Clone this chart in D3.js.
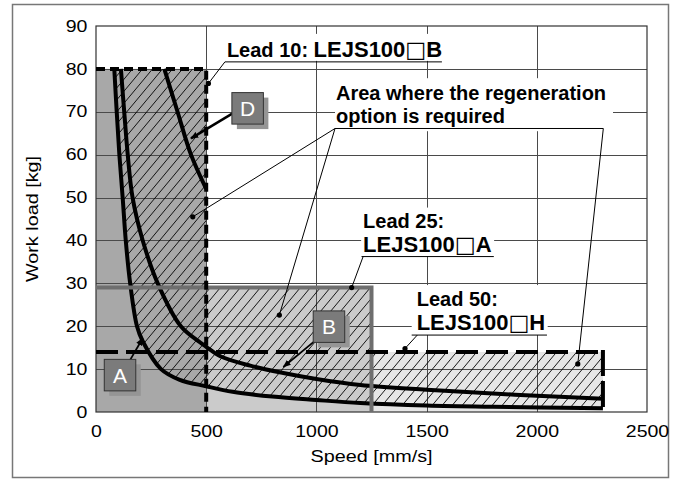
<!DOCTYPE html>
<html>
<head>
<meta charset="utf-8">
<script src="https://cdn.jsdelivr.net/npm/d3@7"></script>
<style>
body { margin: 0; background: #fff; }
svg { display: block; font-family: "Liberation Sans", Arial, sans-serif; }
</style>
</head>
<body>
<svg width="676" height="479"></svg>
<script>
// curves: speed [mm/s] / work load [kg]
var curveASpeed = [83, 94, 106, 121, 135, 155, 186, 212, 295, 380, 500, 620, 800, 1000, 1200, 1500, 1800, 2300];
var curveALoad  = [80, 70, 60, 50, 40, 30, 20, 16.5, 10, 7.5, 6.0, 4.7, 3.6, 2.8, 2.1, 1.5, 1.2, 0.9];
var curveBSpeed = [113, 128, 144, 166, 212, 280, 385, 473, 500, 564, 700, 850, 1000, 1200, 1500, 1800, 2000, 2300];
var curveBLoad  = [80, 70, 60, 50, 40, 30, 20, 16.2, 15.2, 13, 10.8, 9.1, 7.7, 6.3, 5.2, 4.3, 3.8, 3.1];
var curveDSpeed = [310, 370, 431, 500];
var curveDLoad  = [80, 70, 60, 52];

// one entry per lead: 10, 25, 50
var leadNames    = ["Lead 10:", "Lead 25:", "Lead 50:"];
var leadModels   = ["LEJS100□B", "LEJS100□A", "LEJS100□H"];
var leadMaxSpeed = [500, 1250, 2300];
var leadMaxLoad  = [80, 29, 14];

var xTicks = [0, 500, 1000, 1500, 2000, 2500];
var yTicks = [0, 10, 20, 30, 40, 50, 60, 70, 80, 90];

var svg = d3.select("svg");

var x = d3.scaleLinear().domain([0, 2500]).range([96, 647]),
    y = d3.scaleLinear().domain([0, 90]).range([412, 26]);

var fills = ["#a8a8a8", "#cbcbcb", "#e6e6e6"];

function pts(sp, ld) {
    return sp.map(function(s, i) { return [s, ld[i]]; });
}
var curveA = pts(curveASpeed, curveALoad),
    curveB = pts(curveBSpeed, curveBLoad),
    curveD = pts(curveDSpeed, curveDLoad);

var smooth = d3.curveCatmullRom.alpha(0.5);

var defs = svg.append("defs");

defs.append("pattern")
    .attr("id", "hatch")
    .attr("patternUnits", "userSpaceOnUse")
    .attr("width", 10)
    .attr("height", 12)
    .append("path")
    .attr("d", "M0,12 L10,0 M-1,1.2 L1,-1.2 M9,13.2 L11,10.8")
    .attr("stroke", "#000")
    .attr("stroke-width", 0.9);

defs.append("marker")
    .attr("id", "arrow")
    .attr("viewBox", "0 0 10 10")
    .attr("refX", 9).attr("refY", 5)
    .attr("markerUnits", "userSpaceOnUse")
    .attr("markerWidth", 8).attr("markerHeight", 8)
    .attr("orient", "auto")
    .append("path").attr("d", "M0,1 L10,5 L0,9 Z").attr("fill", "#000");

// union of the three lead areas
var clip = defs.append("clipPath").attr("id", "leads");
clip.selectAll("rect")
    .data(leadMaxSpeed)
    .enter().append("rect")
    .attr("x", x(0))
    .attr("y", function(d, i) { return y(leadMaxLoad[i]); })
    .attr("width", function(d) { return x(d) - x(0); })
    .attr("height", function(d, i) { return y(0) - y(leadMaxLoad[i]); });

// outer frame
svg.append("rect")
    .attr("x", 12.5).attr("y", 4.5)
    .attr("width", 656).attr("height", 473)
    .attr("fill", "none").attr("stroke", "#777").attr("stroke-width", 1.5);

// lead areas, widest first
var order = [2, 1, 0];
svg.append("g").selectAll("rect")
    .data(order)
    .enter().append("rect")
    .attr("x", x(0))
    .attr("y", function(i) { return y(leadMaxLoad[i]); })
    .attr("width", function(i) { return x(leadMaxSpeed[i]) - x(0); })
    .attr("height", function(i) { return y(0) - y(leadMaxLoad[i]); })
    .attr("fill", function(i) { return fills[i]; });

// grid
var grid = svg.append("g").attr("stroke", "#4a4a4a").attr("stroke-width", 1);
grid.selectAll(".h")
    .data(yTicks.slice(1, -1))
    .enter().append("line")
    .attr("x1", x(0)).attr("x2", x(2500))
    .attr("y1", function(d) { return Math.round(y(d)) + 0.5; })
    .attr("y2", function(d) { return Math.round(y(d)) + 0.5; });
grid.selectAll(".v")
    .data(xTicks.slice(1, -1))
    .enter().append("line")
    .attr("y1", y(0)).attr("y2", y(90))
    .attr("x1", function(d) { return Math.round(x(d)) + 0.5; })
    .attr("x2", function(d) { return Math.round(x(d)) + 0.5; });
svg.append("rect")
    .attr("x", x(0)).attr("y", y(90))
    .attr("width", x(2500) - x(0)).attr("height", y(0) - y(90))
    .attr("fill", "none").attr("stroke", "#333").attr("stroke-width", 1.2);

// hatched: above curve A inside the lead areas
var hatchArea = d3.area()
    .x(function(d) { return x(d[0]); })
    .y0(function(d) { return y(d[1]); })
    .y1(y(80))
    .curve(smooth);
svg.append("path")
    .datum(curveA)
    .attr("d", hatchArea)
    .attr("fill", "url(#hatch)")
    .attr("clip-path", "url(#leads)");

// white boxes behind the labels (they cut the grid)
function whiteBox(px, py, x0, x1, y0, y1) {
    svg.append("rect")
        .attr("x", px + x0).attr("y", py + y0)
        .attr("width", x1 - x0).attr("height", y1 - y0)
        .attr("fill", "#fff");
}
var lab10 = [x(594), y(82.8)],
    labArea = [x(1089), y(72.7)],
    lab25 = [x(1212), y(43)],
    lab50 = [x(1455), y(24.7)];
whiteBox(lab10[0], lab10[1], -5, 218, -23, 4);
whiteBox(labArea[0], labArea[1], -1, 277, -22, 31);
whiteBox(lab25[0], lab25[1], -2, 131, -20, 28.5);
whiteBox(lab50[0], lab50[1], -5, 131, -21, 29);

// curves
var line = d3.line()
    .x(function(d) { return x(d[0]); })
    .y(function(d) { return y(d[1]); })
    .curve(smooth);
svg.append("g")
    .selectAll("path")
    .data([curveA, curveB, curveD])
    .enter().append("path")
    .attr("d", line)
    .attr("fill", "none")
    .attr("stroke", "#000")
    .attr("stroke-width", 4);

// borders of lead areas
svg.append("path")
    .attr("d", "M" + x(0) + "," + y(leadMaxLoad[1]) + "H" + x(leadMaxSpeed[1]) + "V" + y(0))
    .attr("fill", "none").attr("stroke", "#6e6e6e").attr("stroke-width", 4);
svg.append("path")
    .attr("d", "M" + x(0) + "," + y(leadMaxLoad[0]) + "H" + x(leadMaxSpeed[0]) + "V" + y(0))
    .attr("fill", "none").attr("stroke", "#000").attr("stroke-width", 4)
    .attr("stroke-dasharray", "9,5");
svg.append("path")
    .attr("d", "M" + x(0) + "," + y(leadMaxLoad[2]) + "H" + x(leadMaxSpeed[2]))
    .attr("fill", "none").attr("stroke", "#000").attr("stroke-width", 4)
    .attr("stroke-dasharray", "22,8");
svg.append("path")
    .attr("d", "M" + x(leadMaxSpeed[2]) + "," + (y(leadMaxLoad[2]) - 2) + "V" + y(0))
    .attr("fill", "none").attr("stroke", "#000").attr("stroke-width", 4)
    .attr("stroke-dasharray", "26,5");

// axes
var xAxis = svg.append("g")
    .attr("transform", "translate(0," + y(0) + ")")
    .call(d3.axisBottom(x).tickValues(xTicks).tickFormat(d3.format("d")).tickSize(0).tickPadding(13.5));
var yAxis = svg.append("g")
    .attr("transform", "translate(" + x(0) + ",0)")
    .call(d3.axisLeft(y).tickValues(yTicks).tickFormat(d3.format("d")).tickSize(0).tickPadding(7));
[xAxis, yAxis].forEach(function(a) {
    a.select(".domain").remove();
    a.attr("font-size", 16).attr("font-family", "Liberation Sans, Arial, sans-serif");
    a.selectAll("text").attr("fill", "#000").attr("transform", "scale(1.22,1)");
});

svg.append("text")
    .attr("transform", "translate(" + (x(0) + x(2500)) / 2 + ",462) scale(1.2,1)")
    .attr("text-anchor", "middle")
    .attr("font-size", 16.5)
    .text("Speed [mm/s]");
svg.append("text")
    .attr("transform", "translate(38," + (y(0) + y(90)) / 2 + ") rotate(-90) scale(1.2,1)")
    .attr("text-anchor", "middle")
    .attr("font-size", 16.5)
    .text("Work load [kg]");

// label helpers
function modelText(t, model) {
    t.append("tspan").text(model.slice(0, 7));
    t.append("tspan").attr("font-family", "DejaVu Sans").attr("font-weight", "normal").text(model.slice(7, 8));
    t.append("tspan").text(model.slice(8));
}
function thin(x1, y1, x2, y2) {
    svg.append("line")
        .attr("x1", x1).attr("y1", y1).attr("x2", x2).attr("y2", y2)
        .attr("stroke", "#000").attr("stroke-width", 1);
}
function dot(s, l) {
    svg.append("circle").attr("cx", x(s)).attr("cy", y(l)).attr("r", 2.6).attr("fill", "#000");
}

var lbl = svg.append("g").attr("font-weight", "bold").attr("fill", "#000");

// Lead 10
var t10 = lbl.append("text").attr("x", lab10[0]).attr("y", lab10[1]);
t10.append("tspan").attr("font-size", 20).text(leadNames[0] + " ");
modelText(t10.append("tspan").attr("font-size", 22), leadModels[0]);
thin(lab10[0] - 2, lab10[1] + 5, lab10[0] + 215, lab10[1] + 5);
thin(lab10[0] - 2, lab10[1] + 5, x(510), y(76.6));
dot(510, 76.6);

// Lead 25
lbl.append("text").attr("x", lab25[0]).attr("y", lab25[1]).attr("font-size", 20).text(leadNames[1]);
modelText(lbl.append("text").attr("x", lab25[0]).attr("y", lab25[1] + 24.6).attr("font-size", 22), leadModels[1]);
thin(lab25[0] - 1.6, lab25[1] + 29, lab25[0] + 130.7, lab25[1] + 29);
thin(lab25[0], lab25[1] + 29, x(1160), y(29));
dot(1160, 29);

// Lead 50
lbl.append("text").attr("x", lab50[0]).attr("y", lab50[1]).attr("font-size", 20).text(leadNames[2]);
modelText(lbl.append("text").attr("x", lab50[0]).attr("y", lab50[1] + 24).attr("font-size", 22), leadModels[2]);
thin(lab50[0] - 5, lab50[1] + 29, lab50[0] + 130.3, lab50[1] + 29);
thin(lab50[0] + 0.6, lab50[1] + 29, x(1402), y(14.8));
dot(1402, 14.8);

// regeneration area note
lbl.append("text").attr("x", labArea[0]).attr("y", labArea[1]).attr("font-size", 20)
    .text("Area where the regeneration");
lbl.append("text").attr("x", labArea[0]).attr("y", labArea[1] + 23.3).attr("font-size", 20)
    .text("option is required");
thin(labArea[0] - 1, labArea[1] + 28.3, labArea[0] + 267.3, labArea[1] + 28.3);
[[439, 45.5], [832, 22.6]].forEach(function(p) {
    thin(labArea[0] - 1, labArea[1] + 28.3, x(p[0]), y(p[1]));
    dot(p[0], p[1]);
});
thin(labArea[0] + 267.3, labArea[1] + 28.3, x(2186), y(11.2));
dot(2186, 11.2);

// tags A, B, D with arrows to their curves
function tag(label, cs, cl, fromDx, fromDy, ts, tl, w) {
    var cx = x(cs), cy = y(cl), s = 31.5;
    svg.append("line")
        .attr("x1", cx + fromDx).attr("y1", cy + fromDy)
        .attr("x2", x(ts)).attr("y2", y(tl))
        .attr("stroke", "#000").attr("stroke-width", w)
        .attr("marker-end", "url(#arrow)");
    svg.append("rect")
        .attr("x", cx - s / 2 + 5).attr("y", cy - s / 2 + 5)
        .attr("width", s).attr("height", s)
        .attr("fill", "#959595");
    svg.append("rect")
        .attr("x", cx - s / 2).attr("y", cy - s / 2)
        .attr("width", s).attr("height", s)
        .attr("fill", "#7b7b7b").attr("stroke", "#333").attr("stroke-width", 1);
    svg.append("text")
        .attr("x", cx).attr("y", cy + 7.5)
        .attr("text-anchor", "middle")
        .attr("font-size", 21)
        .attr("fill", "#fff")
        .text(label);
}
tag("D", 688, 70.8, -15, 5, 431, 63.8, 2.5);
tag("A", 109, 8.6, 10, -15, 212, 17.2, 1.8);
tag("B", 1057, 19.9, -15, 15, 850, 10.5, 1.8);
</script>
</body>
</html>
